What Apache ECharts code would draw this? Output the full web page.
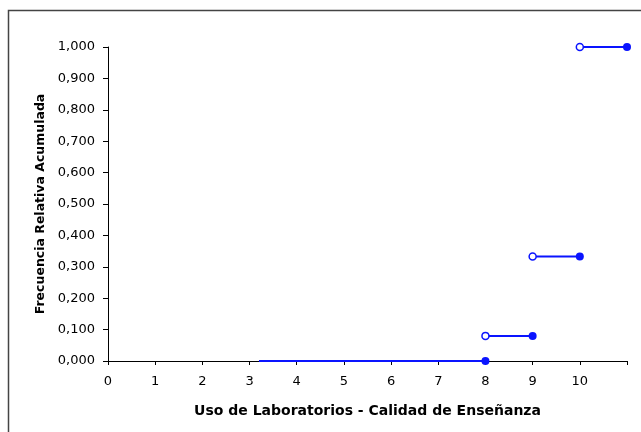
<!DOCTYPE html>
<html><head><meta charset="utf-8">
<script src="https://cdn.jsdelivr.net/npm/echarts@6/dist/echarts.min.js"></script>
<style>html,body{margin:0;padding:0;background:#fff}#c{width:641px;height:432px}</style>
</head><body><div id="c"></div>
<script>
var xTicks = [0,1,2,3,4,5,6,7,8,9,10];
var segStart = [3.2, 8, 9, 10];
var segEnd   = [8, 9, 10, 11];
var segY     = [0, 0.08, 0.333, 1.0];
var openIdx  = [1, 2, 3];   // segments that begin with an open circle

var chart = echarts.init(document.getElementById('c'), null, {renderer:'canvas'});
var blue = '#0a14ff';
var FONT = 'DejaVu Sans';
var series = [];
segStart.forEach(function(s, i){
  series.push({type:'line', data:[[s, segY[i]], [segEnd[i], segY[i]]], showSymbol:false, symbol:'none',
    lineStyle:{color:blue, width:2}, silent:true, z:2});
});
series.push({type:'scatter', data: openIdx.map(function(i){return [segStart[i], segY[i]];}),
  symbol:'circle', symbolSize:7, itemStyle:{color:'#fff', borderColor:blue, borderWidth:1.5, opacity:1}, z:3});
series.push({type:'scatter', data: segEnd.map(function(e,i){return [e, segY[i]];}),
  symbol:'circle', symbolSize:8, itemStyle:{color:blue, opacity:1}, z:3});

chart.setOption({
  animation:false,
  textStyle:{fontFamily:FONT},
  graphic:[{type:'rect', shape:{x:8.5, y:10.5, width:640, height:430}, style:{fill:'none', stroke:'#444', lineWidth:1.5}}],
  grid:{left:108, right:14, top:47, bottom:71},
  xAxis:{type:'value', min:0, max:11, interval:1,
    name:'Uso de Laboratorios - Calidad de Enseñanza', nameLocation:'middle', nameGap:43,
    nameTextStyle:{fontSize:14, fontWeight:'bold', color:'#000', fontFamily:FONT},
    axisLine:{show:true, onZero:false, lineStyle:{color:'#000', width:1}},
    axisTick:{show:true, length:4, inside:false, lineStyle:{color:'#000'}},
    axisLabel:{fontSize:13, color:'#000', margin:14, fontFamily:FONT,
      formatter:function(v){return xTicks.indexOf(v) >= 0 ? String(v) : '';}},
    splitLine:{show:false}},
  yAxis:{type:'value', min:0, max:1, interval:0.1,
    name:'Frecuencia Relativa Acumulada', nameLocation:'middle', nameGap:41, nameRotate:90,
    nameTextStyle:{fontSize:12.5, fontWeight:'bold', color:'#000', fontFamily:FONT},
    axisLine:{show:true, lineStyle:{color:'#000', width:1}},
    axisTick:{show:true, length:5, lineStyle:{color:'#000'}},
    axisLabel:{fontSize:13, color:'#000', margin:13, fontFamily:FONT,
      formatter:function(v){return v.toFixed(3).replace('.', ',');}},
    splitLine:{show:false}},
  series: series
});
</script></body></html>
